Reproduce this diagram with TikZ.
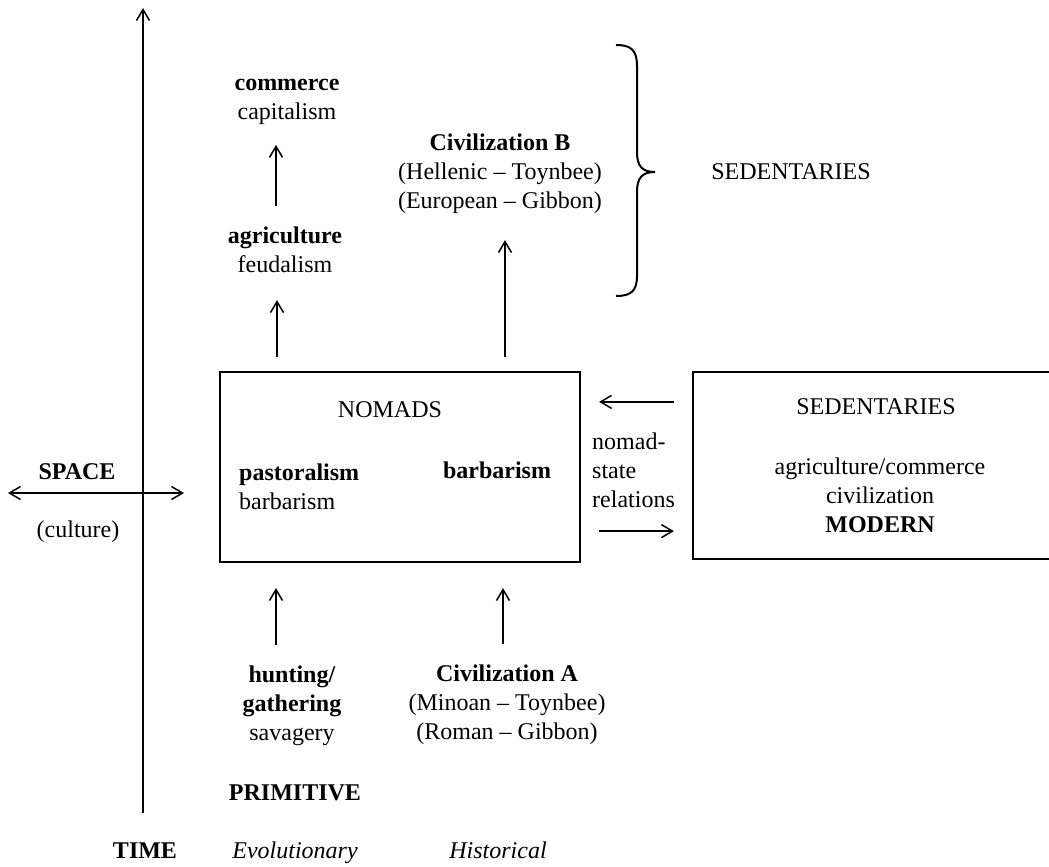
\documentclass[tikz,border=0pt]{standalone}
\usepackage{fontspec}
\setmainfont{Liberation Serif}
\usetikzlibrary{arrows.meta}
\begin{document}
\begin{tikzpicture}[x=1pt,y=-1pt,
  txt/.style={font=\fontsize{24}{29}\selectfont, align=center, inner sep=0pt},
  arr/.style={-{Straight Barb[length=11pt,width=13pt,line width=1.5pt]}, line width=1.5pt},
  box/.style={draw, line width=2.2pt, inner sep=0pt}]
\useasboundingbox (0,0) rectangle (1049,867);
\clip (0,0) rectangle (1049,867);
\fill[white] (0,0) rectangle (1049,867);

% time axis
\coordinate (tbot) at (143,813);
\coordinate (ttop) at (143,8);
\draw[arr, line width=1.7pt] (tbot) -- (ttop);

% boxes
\node[box, minimum width=360pt, minimum height=190pt] (nom) at (400,467) {};
\node[box, minimum width=372pt, minimum height=187pt] (sed) at (879,465.5) {};

% upper texts
\node[txt] (com) at (287,102) {\textbf{commerce}\\capitalism};
\node[txt] (agri) at (285,250) {\textbf{agriculture}\\feudalism};
\node[txt] (civB) at (500,174) {\textbf{Civilization B}\\(Hellenic -- Toynbee)\\(European -- Gibbon)};
\node[txt] (sedT) at (791,172) {SEDENTARIES};

% brace
\draw[line width=2pt] (616,45) .. controls (631,45) and (637,50) .. (637,66)
  -- (637,152) .. controls (637,166) and (642,172) .. (655,172)
  .. controls (642,172) and (637,178) .. (637,192)
  -- (637,276) .. controls (637,291) and (631,296) .. (616,296);

% nomads box texts
\node[txt] (nomT) at (390,410) {NOMADS};
\node[txt, anchor=west, align=left] (past) at (239,487) {\textbf{pastoralism}\\barbarism};
\node[txt] (barb) at (497,470) {\textbf{barbarism}};
\node[txt, anchor=west, align=left] (nsr) at (592,470) {nomad-\\state\\relations};

% sedentaries box texts
\node[txt] (sedB) at (876,407) {SEDENTARIES};
\node[txt] (sedC) at (880,495) {agriculture/commerce\\civilization\\\textbf{MODERN}};

% space
\node[txt] (space) at (77,472) {\textbf{SPACE}};
\node[txt] (cult) at (78,532) {(culture)};
\coordinate (sl) at (8,493);
\coordinate (sr) at (184,493);
\draw[{Straight Barb[length=11pt,width=13pt,line width=1.5pt]}-{Straight Barb[length=11pt,width=13pt,line width=1.5pt]}, line width=1.5pt] (sl) -- (sr);

% lower texts
\node[txt] (hunt) at (292,706) {\textbf{hunting/}\\\textbf{gathering}\\savagery};
\node[txt] (civA) at (507,705) {\textbf{Civilization A}\\(Minoan -- Toynbee)\\(Roman -- Gibbon)};
\node[txt] (prim) at (295,793) {\textbf{PRIMITIVE}};
\node[txt, anchor=base] (time) at (145,858) {\textbf{TIME}};
\node[txt, anchor=base] (evol) at (295,858) {\textit{Evolutionary}};
\node[txt, anchor=base] (hist) at (498,858) {\textit{Historical}};

% vertical arrows
\draw[arr, shorten <=21pt, shorten >=20pt] ([xshift=-9pt]agri.north) -- ([xshift=-9pt]agri.north |- com.south);
\draw[arr, shorten <=14pt, shorten >=27pt] ([xshift=-8pt]agri.south |- nom.north) -- ([xshift=-8pt]agri.south);
\draw[arr, shorten <=14pt, shorten >=26pt] ([xshift=5pt]civB.south |- nom.north) -- ([xshift=5pt]civB.south);
\draw[arr, shorten <=21pt, shorten >=25pt] ([xshift=-16pt]hunt.north) -- ([xshift=-16pt]hunt.north |- nom.south);
\draw[arr, shorten <=21pt, shorten >=25pt] ([xshift=-4pt]civA.north) -- ([xshift=-4pt]civA.north |- nom.south);

% nomad-state relations arrows
\draw[arr, shorten <=18pt, shorten >=18pt] ([yshift=-31pt]nom.north east -| sed.west) -- ([yshift=-31pt]nom.north east);
\draw[arr, shorten <=18pt, shorten >=18pt] ([yshift=32pt]nom.south east) -- ([yshift=32pt]nom.south east -| sed.west);
\end{tikzpicture}
\end{document}
